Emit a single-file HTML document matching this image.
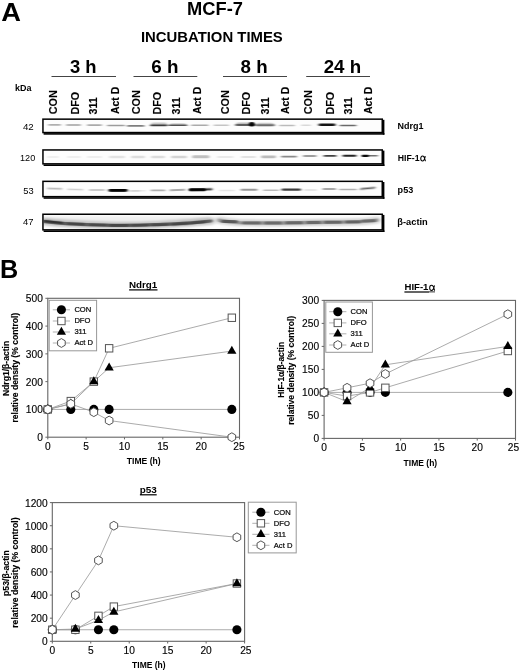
<!DOCTYPE html>
<html><head><meta charset="utf-8"><title>MCF-7 figure</title>
<style>
html,body{margin:0;padding:0;background:#fff;}
body{width:520px;height:671px;overflow:hidden;font-family:"Liberation Sans",sans-serif;}
svg{display:block;will-change:transform;font-family:"Liberation Sans",sans-serif;}
svg text{font-family:"Liberation Sans",sans-serif;fill:#000;}
</style></head><body>
<svg width="520" height="671" viewBox="0 0 520 671">
<rect width="520" height="671" fill="#fff"/>
<text transform="translate(1.22,20.9) scale(1.0425,1)" font-size="26.2" font-weight="bold" >A</text>
<text transform="translate(187.06,15.0) scale(1.0225,1)" font-size="17.9" font-weight="bold" >MCF-7</text>
<text transform="translate(140.90,42.1) scale(1.0198,1)" font-size="14.6" font-weight="bold" >INCUBATION TIMES</text>
<text transform="translate(69.99,72.6) scale(1.0122,1)" font-size="18.2" font-weight="bold" >3 h</text>
<line x1="51.5" y1="76.5" x2="116" y2="76.5" stroke="#444" stroke-width="1.2"/>
<text transform="translate(151.19,72.6) scale(1.0357,1)" font-size="18.2" font-weight="bold" >6 h</text>
<line x1="133.5" y1="76.5" x2="197.3" y2="76.5" stroke="#444" stroke-width="1.2"/>
<text transform="translate(240.59,72.6) scale(1.0278,1)" font-size="18.2" font-weight="bold" >8 h</text>
<line x1="223" y1="76.5" x2="287" y2="76.5" stroke="#444" stroke-width="1.2"/>
<text transform="translate(323.64,72.6) scale(1.0297,1)" font-size="18.2" font-weight="bold" >24 h</text>
<line x1="306.2" y1="76.5" x2="370" y2="76.5" stroke="#444" stroke-width="1.2"/>
<text transform="translate(14.97,90.8) scale(0.9981,1)" font-size="9.0" font-weight="bold" >kDa</text>
<text transform="translate(57.15,114.23) rotate(-90) scale(1.0259,1)" font-size="10.6" font-weight="bold" stroke="#000" stroke-width="0.14">CON</text>
<text transform="translate(78.85,114.53) rotate(-90) scale(1.0142,1)" font-size="10.6" font-weight="bold" stroke="#000" stroke-width="0.14">DFO</text>
<text transform="translate(96.95,114.44) rotate(-90) scale(1.0023,1)" font-size="10.6" font-weight="bold" stroke="#000" stroke-width="0.14">311</text>
<text transform="translate(118.85,114.06) rotate(-90) scale(0.9860,1)" font-size="10.6" font-weight="bold" stroke="#000" stroke-width="0.14">Act D</text>
<text transform="translate(139.55,114.23) rotate(-90) scale(1.0259,1)" font-size="10.6" font-weight="bold" stroke="#000" stroke-width="0.14">CON</text>
<text transform="translate(160.95,114.53) rotate(-90) scale(1.0142,1)" font-size="10.6" font-weight="bold" stroke="#000" stroke-width="0.14">DFO</text>
<text transform="translate(179.55,114.44) rotate(-90) scale(1.0023,1)" font-size="10.6" font-weight="bold" stroke="#000" stroke-width="0.14">311</text>
<text transform="translate(200.75,114.06) rotate(-90) scale(0.9860,1)" font-size="10.6" font-weight="bold" stroke="#000" stroke-width="0.14">Act D</text>
<text transform="translate(228.55,114.23) rotate(-90) scale(1.0259,1)" font-size="10.6" font-weight="bold" stroke="#000" stroke-width="0.14">CON</text>
<text transform="translate(250.25,114.53) rotate(-90) scale(1.0142,1)" font-size="10.6" font-weight="bold" stroke="#000" stroke-width="0.14">DFO</text>
<text transform="translate(268.55,114.44) rotate(-90) scale(1.0023,1)" font-size="10.6" font-weight="bold" stroke="#000" stroke-width="0.14">311</text>
<text transform="translate(289.35,114.06) rotate(-90) scale(0.9860,1)" font-size="10.6" font-weight="bold" stroke="#000" stroke-width="0.14">Act D</text>
<text transform="translate(312.05,114.23) rotate(-90) scale(1.0259,1)" font-size="10.6" font-weight="bold" stroke="#000" stroke-width="0.14">CON</text>
<text transform="translate(333.55,114.53) rotate(-90) scale(1.0142,1)" font-size="10.6" font-weight="bold" stroke="#000" stroke-width="0.14">DFO</text>
<text transform="translate(351.95,114.44) rotate(-90) scale(1.0023,1)" font-size="10.6" font-weight="bold" stroke="#000" stroke-width="0.14">311</text>
<text transform="translate(372.05,114.06) rotate(-90) scale(0.9860,1)" font-size="10.6" font-weight="bold" stroke="#000" stroke-width="0.14">Act D</text>
<defs>
<filter id="b1" x="-20%" y="-300%" width="140%" height="700%"><feGaussianBlur stdDeviation="1.5 0.6"/></filter>
<filter id="b2" x="-20%" y="-300%" width="140%" height="700%"><feGaussianBlur stdDeviation="2.2 1.3"/></filter>
<filter id="b3" x="-50%" y="-100%" width="200%" height="300%"><feGaussianBlur stdDeviation="0.8 0.5"/></filter>
<clipPath id="cp0"><rect x="43.7" y="119.80000000000001" width="338.0" height="12.299999999999983"/></clipPath>
<clipPath id="cp1"><rect x="43.7" y="150.6" width="338.0" height="12.800000000000011"/></clipPath>
<clipPath id="cp2"><rect x="43.7" y="182.0" width="338.0" height="14.200000000000017"/></clipPath>
<clipPath id="cp3"><rect x="43.7" y="214.9" width="338.0" height="14.5"/></clipPath>
</defs>
<rect x="42.2" y="118.4" width="340.8" height="14.899999999999983" fill="#fdfdfd"/>
<g clip-path="url(#cp0)">
<rect x="48" y="124.10" width="13" height="1.6" rx="0.8" fill="#000" opacity="0.3" filter="url(#b1)"/>
<rect x="66" y="124.20" width="15" height="1.6" rx="0.8" fill="#000" opacity="0.36" filter="url(#b1)"/>
<rect x="87" y="124.30" width="15" height="1.6" rx="0.8" fill="#000" opacity="0.32" filter="url(#b1)"/>
<rect x="107" y="124.70" width="18" height="1.6" rx="0.8" fill="#000" opacity="0.38" filter="url(#b1)"/>
<rect x="127" y="125.00" width="17.5" height="1.8" rx="0.9" fill="#000" opacity="0.5" filter="url(#b1)"/>
<rect x="150" y="124.45" width="17.5" height="1.7" rx="0.85" fill="#000" opacity="0.7" filter="url(#b1)"/>
<rect x="168" y="124.50" width="19.5" height="1.6" rx="0.8" fill="#000" opacity="0.62" filter="url(#b1)"/>
<rect x="191" y="124.40" width="17.5" height="1.6" rx="0.8" fill="#000" opacity="0.32" filter="url(#b1)"/>
<rect x="213.5" y="124.45" width="15.5" height="1.5" rx="0.75" fill="#000" opacity="0.22" filter="url(#b1)"/>
<rect x="235" y="123.90" width="20" height="2.2" rx="1.1" fill="#000" opacity="0.5" filter="url(#b1)"/>
<rect x="255" y="124.20" width="20" height="2.0" rx="1.0" fill="#000" opacity="0.46" filter="url(#b1)"/>
<rect x="279" y="124.65" width="16" height="1.5" rx="0.75" fill="#000" opacity="0.26" filter="url(#b1)"/>
<rect x="301" y="124.50" width="10" height="1.4" rx="0.7" fill="#000" opacity="0.14" filter="url(#b1)"/>
<rect x="318.5" y="123.55" width="17.0" height="2.5" rx="1.25" fill="#000" opacity="0.92" filter="url(#b1)"/>
<rect x="339.5" y="124.70" width="17.0" height="1.6" rx="0.8" fill="#000" opacity="0.58" filter="url(#b1)"/>
<rect x="151" y="122.60" width="16" height="3.4" rx="1.7" fill="#000" opacity="0.2" filter="url(#b1)"/>
<rect x="170" y="123.00" width="16" height="3.0" rx="1.5" fill="#000" opacity="0.14" filter="url(#b1)"/>
<rect x="236" y="122.50" width="18" height="3.6" rx="1.8" fill="#000" opacity="0.24" filter="url(#b1)"/>
<rect x="256" y="122.80" width="18" height="3.4" rx="1.7" fill="#000" opacity="0.2" filter="url(#b1)"/>
<ellipse cx="251.8" cy="124.3" rx="3.0" ry="2.3" fill="#000" opacity=".95" filter="url(#b3)"/>
</g>
<rect x="42.95" y="119.15" width="339.3" height="13.399999999999983" fill="none" stroke="#000" stroke-width="1.5"/>
<rect x="43.6" y="133.1" width="340.8" height="1.6" fill="#000"/>
<rect x="382.79999999999995" y="119.80000000000001" width="1.6" height="14.899999999999983" fill="#000"/>
<rect x="42.2" y="149.2" width="340.8" height="15.400000000000011" fill="#fdfdfd"/>
<g clip-path="url(#cp1)">
<rect x="47" y="156.20" width="12" height="1.6" rx="0.8" fill="#000" opacity="0.07" filter="url(#b1)"/>
<rect x="67" y="156.20" width="14" height="1.6" rx="0.8" fill="#000" opacity="0.07" filter="url(#b1)"/>
<rect x="87" y="156.20" width="15" height="1.6" rx="0.8" fill="#000" opacity="0.08" filter="url(#b1)"/>
<rect x="109" y="155.80" width="16" height="2.4" rx="1.2" fill="#000" opacity="0.1" filter="url(#b1)"/>
<rect x="131" y="155.80" width="14" height="2.4" rx="1.2" fill="#000" opacity="0.12" filter="url(#b1)"/>
<rect x="151" y="155.70" width="14" height="2.6" rx="1.3" fill="#000" opacity="0.13" filter="url(#b1)"/>
<rect x="171" y="155.70" width="16" height="2.6" rx="1.3" fill="#000" opacity="0.16" filter="url(#b1)"/>
<rect x="192" y="155.30" width="17.5" height="3.0" rx="1.5" fill="#000" opacity="0.24" filter="url(#b1)"/>
<rect x="217" y="156.20" width="16.5" height="1.6" rx="0.8" fill="#000" opacity="0.1" filter="url(#b1)"/>
<rect x="241" y="156.10" width="15" height="1.8" rx="0.9" fill="#000" opacity="0.1" filter="url(#b1)"/>
<rect x="261" y="155.40" width="15" height="2.8" rx="1.4" fill="#000" opacity="0.26" filter="url(#b1)"/>
<rect x="281" y="155.75" width="16" height="1.7" rx="0.85" fill="#000" opacity="0.46" filter="url(#b1)"/>
<rect x="303" y="155.20" width="13.5" height="1.6" rx="0.8" fill="#000" opacity="0.5" filter="url(#b1)"/>
<rect x="323.5" y="155.00" width="13.0" height="1.8" rx="0.9" fill="#000" opacity="0.74" filter="url(#b1)"/>
<rect x="342.5" y="154.85" width="14.0" height="1.9" rx="0.95" fill="#000" opacity="0.86" filter="url(#b1)"/>
<rect x="367" y="155.00" width="11" height="1.6" rx="0.8" fill="#000" opacity="0.55" filter="url(#b1)"/>
<rect x="361.5" y="154.70" width="7.5" height="2.2" rx="1.1" fill="#000" opacity="0.97" filter="url(#b3)"/>
</g>
<rect x="42.95" y="149.95" width="339.3" height="13.900000000000011" fill="none" stroke="#000" stroke-width="1.5"/>
<rect x="43.6" y="164.4" width="340.8" height="1.6" fill="#000"/>
<rect x="382.79999999999995" y="150.6" width="1.6" height="15.400000000000011" fill="#000"/>
<rect x="42.2" y="180.6" width="340.8" height="16.80000000000002" fill="#fdfdfd"/>
<g clip-path="url(#cp2)">
<rect x="47" y="187.80" width="15.5" height="1.6" rx="0.8" fill="#000" opacity="0.26" filter="url(#b1)" transform="rotate(2 54.75 188.6)"/>
<rect x="67" y="188.65" width="16.5" height="1.5" rx="0.75" fill="#000" opacity="0.18" filter="url(#b1)" transform="rotate(2 75.25 189.4)"/>
<rect x="89" y="189.20" width="16" height="1.6" rx="0.8" fill="#000" opacity="0.26" filter="url(#b1)"/>
<rect x="108.5" y="189.05" width="19.0" height="2.7" rx="1.35" fill="#000" opacity="0.98" filter="url(#b1)"/>
<rect x="128" y="190.30" width="12" height="1.4" rx="0.7" fill="#000" opacity="0.12" filter="url(#b1)"/>
<rect x="131" y="190.10" width="15" height="1.4" rx="0.7" fill="#000" opacity="0.08" filter="url(#b1)"/>
<rect x="150.5" y="189.55" width="15.0" height="1.7" rx="0.85" fill="#000" opacity="0.3" filter="url(#b1)"/>
<rect x="169.5" y="189.10" width="16.0" height="1.8" rx="0.9" fill="#000" opacity="0.32" filter="url(#b1)" transform="rotate(-2 177.5 190.0)"/>
<rect x="189" y="188.40" width="23.5" height="2.0" rx="1.0" fill="#000" opacity="0.85" filter="url(#b1)" transform="rotate(-1.5 200.75 189.4)"/>
<rect x="219" y="189.80" width="16" height="1.4" rx="0.7" fill="#000" opacity="0.09" filter="url(#b1)"/>
<rect x="240.5" y="188.85" width="17.0" height="1.9" rx="0.95" fill="#000" opacity="0.4" filter="url(#b1)"/>
<rect x="263" y="189.50" width="16" height="1.6" rx="0.8" fill="#000" opacity="0.26" filter="url(#b1)"/>
<rect x="281.5" y="188.40" width="19.5" height="2.4" rx="1.2" fill="#000" opacity="0.76" filter="url(#b1)"/>
<rect x="304" y="189.30" width="13" height="1.4" rx="0.7" fill="#000" opacity="0.12" filter="url(#b1)"/>
<rect x="322.5" y="188.15" width="13.5" height="1.7" rx="0.85" fill="#000" opacity="0.46" filter="url(#b1)"/>
<rect x="339" y="188.70" width="18" height="1.6" rx="0.8" fill="#000" opacity="0.3" filter="url(#b1)"/>
<rect x="360" y="187.50" width="15.5" height="1.8" rx="0.9" fill="#000" opacity="0.6" filter="url(#b1)" transform="rotate(-5 367.75 188.4)"/>
<rect x="189" y="188.20" width="17" height="3.0" rx="1.5" fill="#000" opacity="0.95" filter="url(#b3)"/>
<rect x="110" y="189.10" width="16" height="2.6" rx="1.3" fill="#000" opacity="0.6" filter="url(#b3)"/>
</g>
<rect x="42.95" y="181.35" width="339.3" height="15.300000000000017" fill="none" stroke="#000" stroke-width="1.5"/>
<rect x="43.6" y="197.20000000000002" width="340.8" height="1.6" fill="#000"/>
<rect x="382.79999999999995" y="182.0" width="1.6" height="16.80000000000002" fill="#000"/>
<rect x="42.2" y="213.5" width="340.8" height="17.1" fill="#fdfdfd"/>
<g clip-path="url(#cp3)">
<path d="M43,221.4 C50,222.4 58,223.2 66,223.6 C80,224.4 92,224.9 104,225.1 C122,225.5 140,225.3 155,224.7 C172,223.9 190,223.2 203,221.8 L211,221.0" stroke="#000" stroke-width="7.5" fill="none" opacity=".22" filter="url(#b2)" stroke-linecap="round"/>
<path d="M43,221.4 C50,222.4 58,223.2 66,223.6 C80,224.4 92,224.9 104,225.1 C122,225.5 140,225.3 155,224.7 C172,223.9 190,223.2 203,221.8 L211,221.0" stroke="#000" stroke-width="3.2" fill="none" opacity=".52" filter="url(#b1)" stroke-linecap="round"/>
<rect x="44" y="220.70" width="19" height="2.6" rx="1.3" fill="#000" opacity="0.45" filter="url(#b1)" transform="rotate(6 53.5 222.0)"/>
<rect x="67" y="222.50" width="18" height="2.8" rx="1.4" fill="#000" opacity="0.25" filter="url(#b1)" transform="rotate(2 76.0 223.9)"/>
<rect x="89" y="223.50" width="18" height="2.8" rx="1.4" fill="#000" opacity="0.22" filter="url(#b1)" transform="rotate(1 98.0 224.9)"/>
<rect x="109" y="224.00" width="20" height="2.8" rx="1.4" fill="#000" opacity="0.25" filter="url(#b1)"/>
<rect x="131" y="223.90" width="18" height="2.8" rx="1.4" fill="#000" opacity="0.22" filter="url(#b1)" transform="rotate(-1 140.0 225.3)"/>
<rect x="151" y="223.40" width="18" height="2.8" rx="1.4" fill="#000" opacity="0.22" filter="url(#b1)" transform="rotate(-2 160.0 224.8)"/>
<rect x="171" y="222.60" width="18" height="2.8" rx="1.4" fill="#000" opacity="0.25" filter="url(#b1)" transform="rotate(-3 180.0 224.0)"/>
<rect x="189" y="221.20" width="17" height="2.8" rx="1.4" fill="#000" opacity="0.22" filter="url(#b1)" transform="rotate(-5 197.5 222.6)"/>
<rect x="44" y="216.5" width="165" height="4.5" fill="#000" opacity=".05" filter="url(#b2)"/>
<path d="M219,220.2 C225,221.2 230,222.0 238,222.6 C255,223.2 280,223.1 300,222.7 C325,222.2 350,222.1 365,221.4 C370,221.0 374,220.5 377,220.1" stroke="#000" stroke-width="7.0" fill="none" opacity=".17" filter="url(#b2)" stroke-linecap="round"/>
<path d="M219,220.2 C225,221.2 230,222.0 238,222.6 C255,223.2 280,223.1 300,222.7 C325,222.2 350,222.1 365,221.4 C370,221.0 374,220.5 377,220.1" stroke="#000" stroke-width="3.4" fill="none" opacity=".27" filter="url(#b1)" stroke-linecap="round"/>
<rect x="221" y="220.00" width="17" height="3.0" rx="1.5" fill="#000" opacity="0.42" filter="url(#b1)"/>
<rect x="242" y="221.50" width="19" height="3.0" rx="1.5" fill="#000" opacity="0.3" filter="url(#b1)"/>
<rect x="264" y="221.60" width="18" height="3.0" rx="1.5" fill="#000" opacity="0.3" filter="url(#b1)"/>
<rect x="285" y="221.30" width="18" height="3.0" rx="1.5" fill="#000" opacity="0.32" filter="url(#b1)"/>
<rect x="306" y="221.00" width="15" height="3.0" rx="1.5" fill="#000" opacity="0.3" filter="url(#b1)"/>
<rect x="324" y="220.80" width="18" height="3.0" rx="1.5" fill="#000" opacity="0.32" filter="url(#b1)"/>
<rect x="345" y="220.40" width="16" height="3.0" rx="1.5" fill="#000" opacity="0.34" filter="url(#b1)"/>
<rect x="361" y="219.30" width="15" height="3.0" rx="1.5" fill="#000" opacity="0.3" filter="url(#b1)"/>
</g>
<rect x="42.95" y="214.25" width="339.3" height="15.6" fill="none" stroke="#000" stroke-width="1.5"/>
<rect x="43.6" y="230.4" width="340.8" height="1.6" fill="#000"/>
<rect x="382.79999999999995" y="214.9" width="1.6" height="17.1" fill="#000"/>
<text transform="translate(22.88,129.8) scale(1.0581,1)" font-size="9.2" fill="#111">42</text>
<text transform="translate(20.02,160.9) scale(0.9926,1)" font-size="9.2" fill="#111">120</text>
<text transform="translate(23.23,193.9) scale(1.0156,1)" font-size="9.2" fill="#111">53</text>
<text transform="translate(22.99,225.3) scale(1.0267,1)" font-size="9.2" fill="#111">47</text>
<text transform="translate(397.59,129.0) scale(1.0452,1)" font-size="8.6" font-weight="bold" >Ndrg1</text>
<text transform="translate(397.71,160.8) scale(1.0153,1)" font-size="8.6" font-weight="bold" >HIF-1</text>
<path transform="translate(420.4,160.9) scale(1.0)" d="M4.9,-4.75 C4.5,-2.6 3.6,0.08 2.15,0.08 C0.95,0.08 0.35,-0.95 0.35,-2.35 C0.35,-3.8 1.0,-4.85 2.2,-4.85 C3.6,-4.85 4.35,-2.5 4.7,-0.9 C4.8,-0.4 5.0,0.0 5.45,0.0" fill="none" stroke="#000" stroke-width="1.05" stroke-linecap="butt"/>
<text transform="translate(397.61,192.6) scale(1.0535,1)" font-size="8.6" font-weight="bold" >p53</text>
<text transform="translate(397.35,224.6) scale(1.0787,1)" font-size="8.6" font-weight="bold" >β-actin</text>
<text transform="translate(-0.00,277.7) scale(0.9636,1)" font-size="26.2" font-weight="bold" >B</text>
<rect x="47.8" y="298.3" width="191.7" height="138.89999999999998" fill="none" stroke="#666" stroke-width="1.1"/>
<line x1="45.4" y1="437.20" x2="47.8" y2="437.20" stroke="#666" stroke-width="1"/>
<text x="42.8" y="441.2" font-size="10.2" text-anchor="end" fill="#111" stroke="#111" stroke-width="0.15">0</text>
<line x1="45.4" y1="409.42" x2="47.8" y2="409.42" stroke="#666" stroke-width="1"/>
<text x="42.8" y="413.42" font-size="10.2" text-anchor="end" fill="#111" stroke="#111" stroke-width="0.15">100</text>
<line x1="45.4" y1="381.64" x2="47.8" y2="381.64" stroke="#666" stroke-width="1"/>
<text x="42.8" y="385.64" font-size="10.2" text-anchor="end" fill="#111" stroke="#111" stroke-width="0.15">200</text>
<line x1="45.4" y1="353.86" x2="47.8" y2="353.86" stroke="#666" stroke-width="1"/>
<text x="42.8" y="357.86" font-size="10.2" text-anchor="end" fill="#111" stroke="#111" stroke-width="0.15">300</text>
<line x1="45.4" y1="326.08" x2="47.8" y2="326.08" stroke="#666" stroke-width="1"/>
<text x="42.8" y="330.08" font-size="10.2" text-anchor="end" fill="#111" stroke="#111" stroke-width="0.15">400</text>
<line x1="45.4" y1="298.30" x2="47.8" y2="298.30" stroke="#666" stroke-width="1"/>
<text x="42.8" y="302.3" font-size="10.2" text-anchor="end" fill="#111" stroke="#111" stroke-width="0.15">500</text>
<line x1="47.80" y1="437.2" x2="47.80" y2="439.4" stroke="#666" stroke-width="1"/>
<text x="47.8" y="450.0" font-size="10.2" text-anchor="middle" fill="#111" stroke="#111" stroke-width="0.15">0</text>
<line x1="86.14" y1="437.2" x2="86.14" y2="439.4" stroke="#666" stroke-width="1"/>
<text x="86.14" y="450.0" font-size="10.2" text-anchor="middle" fill="#111" stroke="#111" stroke-width="0.15">5</text>
<line x1="124.48" y1="437.2" x2="124.48" y2="439.4" stroke="#666" stroke-width="1"/>
<text x="124.48" y="450.0" font-size="10.2" text-anchor="middle" fill="#111" stroke="#111" stroke-width="0.15">10</text>
<line x1="162.82" y1="437.2" x2="162.82" y2="439.4" stroke="#666" stroke-width="1"/>
<text x="162.82" y="450.0" font-size="10.2" text-anchor="middle" fill="#111" stroke="#111" stroke-width="0.15">15</text>
<line x1="201.16" y1="437.2" x2="201.16" y2="439.4" stroke="#666" stroke-width="1"/>
<text x="201.16" y="450.0" font-size="10.2" text-anchor="middle" fill="#111" stroke="#111" stroke-width="0.15">20</text>
<line x1="239.50" y1="437.2" x2="239.50" y2="439.4" stroke="#666" stroke-width="1"/>
<text x="239.0" y="450.0" font-size="10.2" text-anchor="middle" fill="#111" stroke="#111" stroke-width="0.15">25</text>
<polyline points="47.80,409.42 70.80,409.42 93.81,409.42 109.14,409.42 231.83,409.42" fill="none" stroke="#9c9c9c" stroke-width="0.85"/>
<polyline points="47.80,409.42 70.80,401.09 93.81,381.64 109.14,348.30 231.83,317.75" fill="none" stroke="#9c9c9c" stroke-width="0.85"/>
<polyline points="47.80,409.42 70.80,403.86 93.81,381.64 109.14,367.75 231.83,351.08" fill="none" stroke="#9c9c9c" stroke-width="0.85"/>
<polyline points="47.80,409.42 70.80,403.86 93.81,412.20 109.14,420.53 231.83,437.20" fill="none" stroke="#9c9c9c" stroke-width="0.85"/>
<rect x="49.2" y="300.3" width="47.39999999999999" height="50.5" fill="#fff" stroke="#979797" stroke-width="1"/>
<line x1="52.8" y1="309.8" x2="70.0" y2="309.8" stroke="#a0a0a0" stroke-width="0.85"/>
<circle cx="61.4" cy="309.8" r="4.55" fill="#000"/>
<text x="74.4" y="312.2" font-size="7.6" text-anchor="start" fill="#111" stroke="#111" stroke-width="0.22">CON</text>
<line x1="52.8" y1="321.0" x2="70.0" y2="321.0" stroke="#a0a0a0" stroke-width="0.85"/>
<rect x="57.70" y="317.30" width="7.4" height="7.4" fill="#fff" stroke="#555" stroke-width="1"/>
<text x="74.4" y="323.4" font-size="7.6" text-anchor="start" fill="#111" stroke="#111" stroke-width="0.22">DFO</text>
<line x1="52.8" y1="332.0" x2="70.0" y2="332.0" stroke="#a0a0a0" stroke-width="0.85"/>
<path d="M61.4,326.70 L66.00,334.70 L56.80,334.70 Z" fill="#000"/>
<text x="74.4" y="334.4" font-size="7.6" text-anchor="start" fill="#111" stroke="#111" stroke-width="0.22">311</text>
<line x1="52.8" y1="343.0" x2="70.0" y2="343.0" stroke="#a0a0a0" stroke-width="0.85"/>
<polygon points="61.40,338.60 57.59,340.80 57.59,345.20 61.40,347.40 65.21,345.20 65.21,340.80" fill="#fff" stroke="#555" stroke-width="1"/>
<text x="74.4" y="345.4" font-size="7.6" text-anchor="start" fill="#111" stroke="#111" stroke-width="0.22">Act D</text>
<circle cx="47.8" cy="409.42" r="4.55" fill="#000"/>
<circle cx="70.8" cy="409.42" r="4.55" fill="#000"/>
<circle cx="93.81" cy="409.42" r="4.55" fill="#000"/>
<circle cx="109.14" cy="409.42" r="4.55" fill="#000"/>
<circle cx="231.83" cy="409.42" r="4.55" fill="#000"/>
<rect x="44.10" y="405.72" width="7.4" height="7.4" fill="#fff" stroke="#555" stroke-width="1"/>
<rect x="67.10" y="397.39" width="7.4" height="7.4" fill="#fff" stroke="#555" stroke-width="1"/>
<rect x="90.11" y="377.94" width="7.4" height="7.4" fill="#fff" stroke="#555" stroke-width="1"/>
<rect x="105.44" y="344.60" width="7.4" height="7.4" fill="#fff" stroke="#555" stroke-width="1"/>
<rect x="228.13" y="314.05" width="7.4" height="7.4" fill="#fff" stroke="#555" stroke-width="1"/>
<path d="M47.8,404.12 L52.40,412.12 L43.20,412.12 Z" fill="#000"/>
<path d="M70.8,398.56 L75.40,406.56 L66.20,406.56 Z" fill="#000"/>
<path d="M93.81,376.34 L98.41,384.34 L89.21,384.34 Z" fill="#000"/>
<path d="M109.14,362.45 L113.74,370.45 L104.54,370.45 Z" fill="#000"/>
<path d="M231.83,345.78 L236.43,353.78 L227.23,353.78 Z" fill="#000"/>
<polygon points="47.80,405.02 43.99,407.22 43.99,411.62 47.80,413.82 51.61,411.62 51.61,407.22" fill="#fff" stroke="#555" stroke-width="1"/>
<polygon points="70.80,399.46 66.99,401.66 66.99,406.06 70.80,408.26 74.61,406.06 74.61,401.66" fill="#fff" stroke="#555" stroke-width="1"/>
<polygon points="93.81,407.80 90.00,410.00 90.00,414.40 93.81,416.60 97.62,414.40 97.62,410.00" fill="#fff" stroke="#555" stroke-width="1"/>
<polygon points="109.14,416.13 105.33,418.33 105.33,422.73 109.14,424.93 112.95,422.73 112.95,418.33" fill="#fff" stroke="#555" stroke-width="1"/>
<polygon points="231.83,432.80 228.02,435.00 228.02,439.40 231.83,441.60 235.64,439.40 235.64,435.00" fill="#fff" stroke="#555" stroke-width="1"/>
<text transform="translate(128.94,288.1) scale(1.0438,1)" font-size="9.4" font-weight="bold" >Ndrg1</text>
<rect x="129.1" y="289.3" width="28.4" height="1.2" fill="#000"/>
<text transform="translate(126.79,463.9) scale(1.0340,1)" font-size="8.3" font-weight="bold" >TIME (h)</text>
<text transform="translate(8.7,396.08) rotate(-90) scale(1.0097,1)" font-size="8.5" font-weight="bold" stroke="#000" stroke-width="0.14">Ndrg1/β-actin</text>
<text transform="translate(18.4,422.56) rotate(-90) scale(1.0369,1)" font-size="8.3" font-weight="bold" stroke="#000" stroke-width="0.14">relative density (% control)</text>
<rect x="324.1" y="300.4" width="191.39999999999998" height="138.0" fill="none" stroke="#666" stroke-width="1.1"/>
<line x1="321.70000000000005" y1="438.40" x2="324.1" y2="438.40" stroke="#666" stroke-width="1"/>
<text x="319.1" y="442.4" font-size="10.2" text-anchor="end" fill="#111" stroke="#111" stroke-width="0.15">0</text>
<line x1="321.70000000000005" y1="415.40" x2="324.1" y2="415.40" stroke="#666" stroke-width="1"/>
<text x="319.1" y="419.4" font-size="10.2" text-anchor="end" fill="#111" stroke="#111" stroke-width="0.15">50</text>
<line x1="321.70000000000005" y1="392.40" x2="324.1" y2="392.40" stroke="#666" stroke-width="1"/>
<text x="319.1" y="396.4" font-size="10.2" text-anchor="end" fill="#111" stroke="#111" stroke-width="0.15">100</text>
<line x1="321.70000000000005" y1="369.40" x2="324.1" y2="369.40" stroke="#666" stroke-width="1"/>
<text x="319.1" y="373.4" font-size="10.2" text-anchor="end" fill="#111" stroke="#111" stroke-width="0.15">150</text>
<line x1="321.70000000000005" y1="346.40" x2="324.1" y2="346.40" stroke="#666" stroke-width="1"/>
<text x="319.1" y="350.4" font-size="10.2" text-anchor="end" fill="#111" stroke="#111" stroke-width="0.15">200</text>
<line x1="321.70000000000005" y1="323.40" x2="324.1" y2="323.40" stroke="#666" stroke-width="1"/>
<text x="319.1" y="327.4" font-size="10.2" text-anchor="end" fill="#111" stroke="#111" stroke-width="0.15">250</text>
<line x1="321.70000000000005" y1="300.40" x2="324.1" y2="300.40" stroke="#666" stroke-width="1"/>
<text x="319.1" y="304.4" font-size="10.2" text-anchor="end" fill="#111" stroke="#111" stroke-width="0.15">300</text>
<line x1="324.10" y1="438.4" x2="324.10" y2="440.59999999999997" stroke="#666" stroke-width="1"/>
<text x="324.1" y="450.9" font-size="10.2" text-anchor="middle" fill="#111" stroke="#111" stroke-width="0.15">0</text>
<line x1="362.38" y1="438.4" x2="362.38" y2="440.59999999999997" stroke="#666" stroke-width="1"/>
<text x="362.38" y="450.9" font-size="10.2" text-anchor="middle" fill="#111" stroke="#111" stroke-width="0.15">5</text>
<line x1="400.66" y1="438.4" x2="400.66" y2="440.59999999999997" stroke="#666" stroke-width="1"/>
<text x="400.66" y="450.9" font-size="10.2" text-anchor="middle" fill="#111" stroke="#111" stroke-width="0.15">10</text>
<line x1="438.94" y1="438.4" x2="438.94" y2="440.59999999999997" stroke="#666" stroke-width="1"/>
<text x="438.94" y="450.9" font-size="10.2" text-anchor="middle" fill="#111" stroke="#111" stroke-width="0.15">15</text>
<line x1="477.22" y1="438.4" x2="477.22" y2="440.59999999999997" stroke="#666" stroke-width="1"/>
<text x="477.22" y="450.9" font-size="10.2" text-anchor="middle" fill="#111" stroke="#111" stroke-width="0.15">20</text>
<line x1="515.50" y1="438.4" x2="515.50" y2="440.59999999999997" stroke="#666" stroke-width="1"/>
<text x="513.5" y="450.9" font-size="10.2" text-anchor="middle" fill="#111" stroke="#111" stroke-width="0.15">25</text>
<polyline points="324.10,392.40 347.07,392.40 370.04,392.40 385.35,392.40 507.84,392.40" fill="none" stroke="#9c9c9c" stroke-width="0.85"/>
<polyline points="324.10,392.40 347.07,396.08 370.04,392.40 385.35,387.80 507.84,351.00" fill="none" stroke="#9c9c9c" stroke-width="0.85"/>
<polyline points="324.10,392.40 347.07,401.60 370.04,387.80 385.35,364.80 507.84,346.40" fill="none" stroke="#9c9c9c" stroke-width="0.85"/>
<polyline points="324.10,392.40 347.07,387.80 370.04,383.20 385.35,374.00 507.84,314.20" fill="none" stroke="#9c9c9c" stroke-width="0.85"/>
<rect x="325.8" y="302.0" width="46.599999999999966" height="50.30000000000001" fill="#fff" stroke="#979797" stroke-width="1"/>
<line x1="329.2" y1="311.7" x2="346.40000000000003" y2="311.7" stroke="#a0a0a0" stroke-width="0.85"/>
<circle cx="337.8" cy="311.7" r="4.55" fill="#000"/>
<text x="350.6" y="314.1" font-size="7.6" text-anchor="start" fill="#111" stroke="#111" stroke-width="0.22">CON</text>
<line x1="329.2" y1="322.9" x2="346.40000000000003" y2="322.9" stroke="#a0a0a0" stroke-width="0.85"/>
<rect x="334.10" y="319.20" width="7.4" height="7.4" fill="#fff" stroke="#555" stroke-width="1"/>
<text x="350.6" y="325.3" font-size="7.6" text-anchor="start" fill="#111" stroke="#111" stroke-width="0.22">DFO</text>
<line x1="329.2" y1="333.8" x2="346.40000000000003" y2="333.8" stroke="#a0a0a0" stroke-width="0.85"/>
<path d="M337.8,328.50 L342.40,336.50 L333.20,336.50 Z" fill="#000"/>
<text x="350.6" y="336.2" font-size="7.6" text-anchor="start" fill="#111" stroke="#111" stroke-width="0.22">311</text>
<line x1="329.2" y1="345.0" x2="346.40000000000003" y2="345.0" stroke="#a0a0a0" stroke-width="0.85"/>
<polygon points="337.80,340.60 333.99,342.80 333.99,347.20 337.80,349.40 341.61,347.20 341.61,342.80" fill="#fff" stroke="#555" stroke-width="1"/>
<text x="350.6" y="347.4" font-size="7.6" text-anchor="start" fill="#111" stroke="#111" stroke-width="0.22">Act D</text>
<circle cx="324.1" cy="392.4" r="4.55" fill="#000"/>
<circle cx="347.07" cy="392.4" r="4.55" fill="#000"/>
<circle cx="370.04" cy="392.4" r="4.55" fill="#000"/>
<circle cx="385.35" cy="392.4" r="4.55" fill="#000"/>
<circle cx="507.84" cy="392.4" r="4.55" fill="#000"/>
<rect x="320.40" y="388.70" width="7.4" height="7.4" fill="#fff" stroke="#555" stroke-width="1"/>
<rect x="343.37" y="392.38" width="7.4" height="7.4" fill="#fff" stroke="#555" stroke-width="1"/>
<rect x="366.34" y="388.70" width="7.4" height="7.4" fill="#fff" stroke="#555" stroke-width="1"/>
<rect x="381.65" y="384.10" width="7.4" height="7.4" fill="#fff" stroke="#555" stroke-width="1"/>
<rect x="504.14" y="347.30" width="7.4" height="7.4" fill="#fff" stroke="#555" stroke-width="1"/>
<path d="M324.1,387.10 L328.70,395.10 L319.50,395.10 Z" fill="#000"/>
<path d="M347.07,396.30 L351.67,404.30 L342.47,404.30 Z" fill="#000"/>
<path d="M370.04,382.50 L374.64,390.50 L365.44,390.50 Z" fill="#000"/>
<path d="M385.35,359.50 L389.95,367.50 L380.75,367.50 Z" fill="#000"/>
<path d="M507.84,341.10 L512.44,349.10 L503.24,349.10 Z" fill="#000"/>
<polygon points="324.10,388.00 320.29,390.20 320.29,394.60 324.10,396.80 327.91,394.60 327.91,390.20" fill="#fff" stroke="#555" stroke-width="1"/>
<polygon points="347.07,383.40 343.26,385.60 343.26,390.00 347.07,392.20 350.88,390.00 350.88,385.60" fill="#fff" stroke="#555" stroke-width="1"/>
<polygon points="370.04,378.80 366.23,381.00 366.23,385.40 370.04,387.60 373.85,385.40 373.85,381.00" fill="#fff" stroke="#555" stroke-width="1"/>
<polygon points="385.35,369.60 381.54,371.80 381.54,376.20 385.35,378.40 389.16,376.20 389.16,371.80" fill="#fff" stroke="#555" stroke-width="1"/>
<polygon points="507.84,309.80 504.03,312.00 504.03,316.40 507.84,318.60 511.65,316.40 511.65,312.00" fill="#fff" stroke="#555" stroke-width="1"/>
<text transform="translate(404.45,290.3) scale(1.0218,1)" font-size="9.4" font-weight="bold" >HIF-1</text>
<path transform="translate(429.3,290.4) scale(1.05)" d="M4.9,-4.75 C4.5,-2.6 3.6,0.08 2.15,0.08 C0.95,0.08 0.35,-0.95 0.35,-2.35 C0.35,-3.8 1.0,-4.85 2.2,-4.85 C3.6,-4.85 4.35,-2.5 4.7,-0.9 C4.8,-0.4 5.0,0.0 5.45,0.0" fill="none" stroke="#000" stroke-width="1.0" stroke-linecap="butt"/>
<rect x="404.4" y="291.4" width="24.6" height="1.2" fill="#000"/>
<rect x="429.0" y="291.5" width="6.0" height="0.8" fill="#000"/>
<text transform="translate(403.59,465.7) scale(1.0278,1)" font-size="8.3" font-weight="bold" >TIME (h)</text>
<text transform="translate(284.3,397.87) rotate(-90) scale(0.9854,1)" font-size="8.5" font-weight="bold" stroke="#000" stroke-width="0.14">HIF-1α/β-actin</text>
<text transform="translate(294.2,424.75) rotate(-90) scale(1.0274,1)" font-size="8.3" font-weight="bold" stroke="#000" stroke-width="0.14">relative density (% control)</text>
<rect x="52.3" y="502.6" width="192.3" height="138.69999999999993" fill="none" stroke="#666" stroke-width="1.1"/>
<line x1="49.9" y1="641.30" x2="52.3" y2="641.30" stroke="#666" stroke-width="1"/>
<text x="47.7" y="645.3" font-size="10.2" text-anchor="end" fill="#111" stroke="#111" stroke-width="0.15">0</text>
<line x1="49.9" y1="618.18" x2="52.3" y2="618.18" stroke="#666" stroke-width="1"/>
<text x="47.7" y="622.18" font-size="10.2" text-anchor="end" fill="#111" stroke="#111" stroke-width="0.15">200</text>
<line x1="49.9" y1="595.07" x2="52.3" y2="595.07" stroke="#666" stroke-width="1"/>
<text x="47.7" y="599.07" font-size="10.2" text-anchor="end" fill="#111" stroke="#111" stroke-width="0.15">400</text>
<line x1="49.9" y1="571.95" x2="52.3" y2="571.95" stroke="#666" stroke-width="1"/>
<text x="47.7" y="575.95" font-size="10.2" text-anchor="end" fill="#111" stroke="#111" stroke-width="0.15">600</text>
<line x1="49.9" y1="548.83" x2="52.3" y2="548.83" stroke="#666" stroke-width="1"/>
<text x="47.7" y="552.83" font-size="10.2" text-anchor="end" fill="#111" stroke="#111" stroke-width="0.15">800</text>
<line x1="49.9" y1="525.72" x2="52.3" y2="525.72" stroke="#666" stroke-width="1"/>
<text x="47.7" y="529.72" font-size="10.2" text-anchor="end" fill="#111" stroke="#111" stroke-width="0.15">1000</text>
<line x1="49.9" y1="502.60" x2="52.3" y2="502.60" stroke="#666" stroke-width="1"/>
<text x="47.7" y="506.6" font-size="10.2" text-anchor="end" fill="#111" stroke="#111" stroke-width="0.15">1200</text>
<line x1="52.30" y1="641.3" x2="52.30" y2="643.5" stroke="#666" stroke-width="1"/>
<text x="52.3" y="654.4" font-size="10.2" text-anchor="middle" fill="#111" stroke="#111" stroke-width="0.15">0</text>
<line x1="90.76" y1="641.3" x2="90.76" y2="643.5" stroke="#666" stroke-width="1"/>
<text x="90.76" y="654.4" font-size="10.2" text-anchor="middle" fill="#111" stroke="#111" stroke-width="0.15">5</text>
<line x1="129.22" y1="641.3" x2="129.22" y2="643.5" stroke="#666" stroke-width="1"/>
<text x="129.22" y="654.4" font-size="10.2" text-anchor="middle" fill="#111" stroke="#111" stroke-width="0.15">10</text>
<line x1="167.68" y1="641.3" x2="167.68" y2="643.5" stroke="#666" stroke-width="1"/>
<text x="167.68" y="654.4" font-size="10.2" text-anchor="middle" fill="#111" stroke="#111" stroke-width="0.15">15</text>
<line x1="206.14" y1="641.3" x2="206.14" y2="643.5" stroke="#666" stroke-width="1"/>
<text x="206.14" y="654.4" font-size="10.2" text-anchor="middle" fill="#111" stroke="#111" stroke-width="0.15">20</text>
<line x1="244.60" y1="641.3" x2="244.60" y2="643.5" stroke="#666" stroke-width="1"/>
<text x="245.8" y="654.4" font-size="10.2" text-anchor="middle" fill="#111" stroke="#111" stroke-width="0.15">25</text>
<polyline points="52.30,629.74 75.38,629.74 98.45,629.74 113.84,629.74 236.91,629.74" fill="none" stroke="#9c9c9c" stroke-width="0.85"/>
<polyline points="52.30,629.74 75.38,629.74 98.45,615.87 113.84,606.62 236.91,583.51" fill="none" stroke="#9c9c9c" stroke-width="0.85"/>
<polyline points="52.30,629.74 75.38,629.05 98.45,620.26 113.84,611.94 236.91,583.51" fill="none" stroke="#9c9c9c" stroke-width="0.85"/>
<polyline points="52.30,629.74 75.38,595.07 98.45,560.39 113.84,525.72 236.91,537.27" fill="none" stroke="#9c9c9c" stroke-width="0.85"/>
<rect x="248.3" y="502.2" width="47.89999999999998" height="50.69999999999999" fill="#fff" stroke="#979797" stroke-width="1"/>
<line x1="252.29999999999998" y1="512.2" x2="269.5" y2="512.2" stroke="#a0a0a0" stroke-width="0.85"/>
<circle cx="260.9" cy="512.2" r="4.55" fill="#000"/>
<text x="273.8" y="514.6" font-size="7.6" text-anchor="start" fill="#111" stroke="#111" stroke-width="0.22">CON</text>
<line x1="252.29999999999998" y1="523.3" x2="269.5" y2="523.3" stroke="#a0a0a0" stroke-width="0.85"/>
<rect x="257.20" y="519.60" width="7.4" height="7.4" fill="#fff" stroke="#555" stroke-width="1"/>
<text x="273.8" y="525.7" font-size="7.6" text-anchor="start" fill="#111" stroke="#111" stroke-width="0.22">DFO</text>
<line x1="252.29999999999998" y1="534.3" x2="269.5" y2="534.3" stroke="#a0a0a0" stroke-width="0.85"/>
<path d="M260.9,529.00 L265.50,537.00 L256.30,537.00 Z" fill="#000"/>
<text x="273.8" y="536.7" font-size="7.6" text-anchor="start" fill="#111" stroke="#111" stroke-width="0.22">311</text>
<line x1="252.29999999999998" y1="545.3" x2="269.5" y2="545.3" stroke="#a0a0a0" stroke-width="0.85"/>
<polygon points="260.90,540.90 257.09,543.10 257.09,547.50 260.90,549.70 264.71,547.50 264.71,543.10" fill="#fff" stroke="#555" stroke-width="1"/>
<text x="273.8" y="547.7" font-size="7.6" text-anchor="start" fill="#111" stroke="#111" stroke-width="0.22">Act D</text>
<circle cx="52.3" cy="629.74" r="4.55" fill="#000"/>
<circle cx="75.38" cy="629.74" r="4.55" fill="#000"/>
<circle cx="98.45" cy="629.74" r="4.55" fill="#000"/>
<circle cx="113.84" cy="629.74" r="4.55" fill="#000"/>
<circle cx="236.91" cy="629.74" r="4.55" fill="#000"/>
<rect x="48.60" y="626.04" width="7.4" height="7.4" fill="#fff" stroke="#555" stroke-width="1"/>
<rect x="71.68" y="626.04" width="7.4" height="7.4" fill="#fff" stroke="#555" stroke-width="1"/>
<rect x="94.75" y="612.17" width="7.4" height="7.4" fill="#fff" stroke="#555" stroke-width="1"/>
<rect x="110.14" y="602.92" width="7.4" height="7.4" fill="#fff" stroke="#555" stroke-width="1"/>
<rect x="233.21" y="579.81" width="7.4" height="7.4" fill="#fff" stroke="#555" stroke-width="1"/>
<path d="M52.3,624.44 L56.90,632.44 L47.70,632.44 Z" fill="#000"/>
<path d="M75.38,623.75 L79.98,631.75 L70.78,631.75 Z" fill="#000"/>
<path d="M98.45,614.96 L103.05,622.96 L93.85,622.96 Z" fill="#000"/>
<path d="M113.84,606.64 L118.44,614.64 L109.24,614.64 Z" fill="#000"/>
<path d="M236.91,578.21 L241.51,586.21 L232.31,586.21 Z" fill="#000"/>
<polygon points="52.30,625.34 48.49,627.54 48.49,631.94 52.30,634.14 56.11,631.94 56.11,627.54" fill="#fff" stroke="#555" stroke-width="1"/>
<polygon points="75.38,590.67 71.57,592.87 71.57,597.27 75.38,599.47 79.19,597.27 79.19,592.87" fill="#fff" stroke="#555" stroke-width="1"/>
<polygon points="98.45,555.99 94.64,558.19 94.64,562.59 98.45,564.79 102.26,562.59 102.26,558.19" fill="#fff" stroke="#555" stroke-width="1"/>
<polygon points="113.84,521.32 110.03,523.52 110.03,527.92 113.84,530.12 117.65,527.92 117.65,523.52" fill="#fff" stroke="#555" stroke-width="1"/>
<polygon points="236.91,532.87 233.10,535.07 233.10,539.47 236.91,541.67 240.72,539.47 240.72,535.07" fill="#fff" stroke="#555" stroke-width="1"/>
<text transform="translate(139.76,493.0) scale(1.0556,1)" font-size="9.4" font-weight="bold" >p53</text>
<rect x="139.9" y="494.2" width="16.8" height="1.2" fill="#000"/>
<text transform="translate(132.09,668.3) scale(1.0247,1)" font-size="8.3" font-weight="bold" >TIME (h)</text>
<text transform="translate(8.9,595.96) rotate(-90) scale(1.0206,1)" font-size="8.5" font-weight="bold" stroke="#000" stroke-width="0.14">p53/β-actin</text>
<text transform="translate(18.2,627.76) rotate(-90) scale(1.0407,1)" font-size="8.3" font-weight="bold" stroke="#000" stroke-width="0.14">relative density (% control)</text>
</svg>
</body></html>
